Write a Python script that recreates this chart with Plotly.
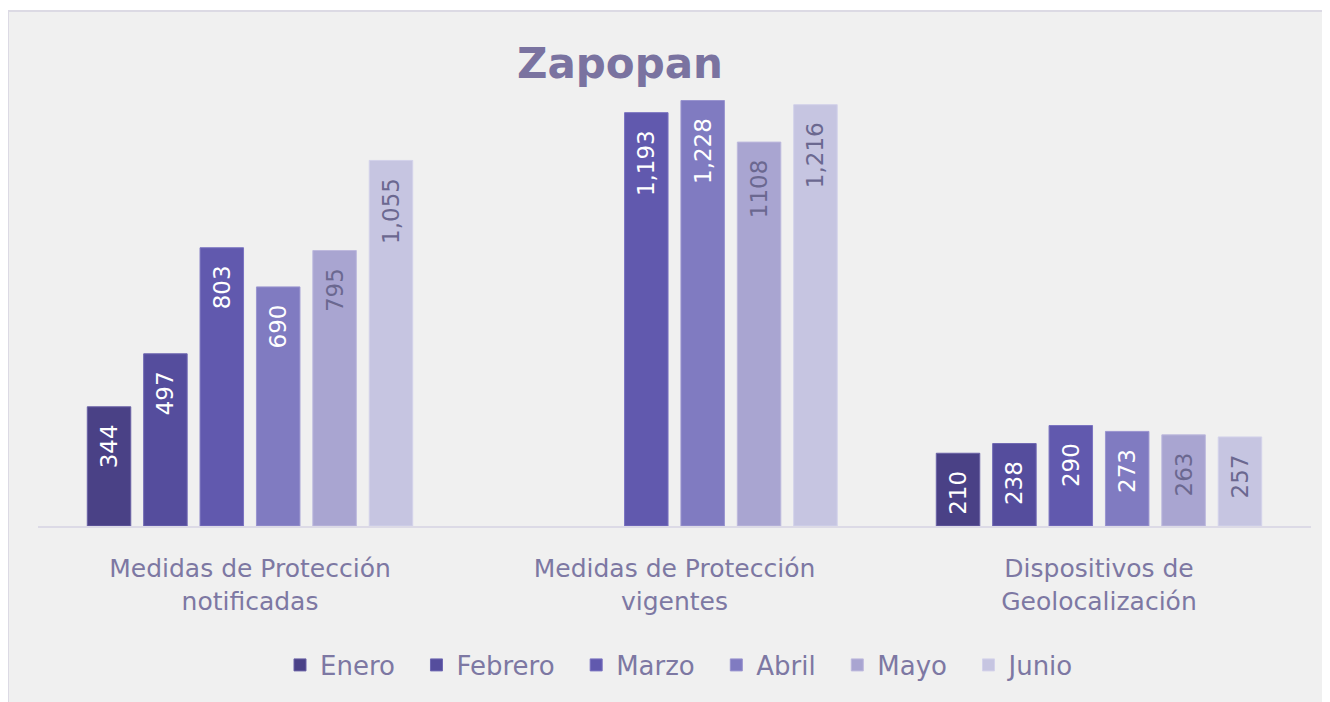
import plotly.graph_objects as go

categories = ["Medidas de Protección<br>notificadas",
              "Medidas de Protección<br>vigentes",
              "Dispositivos de<br>Geolocalización"]
months = ["Enero", "Febrero", "Marzo", "Abril", "Mayo", "Junio"]

enero = [344, None, 210]
febrero = [497, None, 238]
marzo = [803, 1193, 290]
abril = [690, 1228, 273]
mayo = [795, 1108, 263]
junio = [1055, 1216, 257]

enero_lbl = ["344", "", "210"]
febrero_lbl = ["497", "", "238"]
marzo_lbl = ["803", "1,193", "290"]
abril_lbl = ["690", "1,228", "273"]
mayo_lbl = ["795", "1108", "263"]
junio_lbl = ["1,055", "1,216", "257"]

series = [enero, febrero, marzo, abril, mayo, junio]
labels = [enero_lbl, febrero_lbl, marzo_lbl, abril_lbl, mayo_lbl, junio_lbl]
colors = ["#4a4186", "#554d9d", "#6159ae", "#807bc1", "#a9a5d1", "#c6c5e1"]
edge = ["#6a62a6", "#6f68b2", "#7a73c0", "#9994cf", "#bdb9dd", "#d3d2ea"]
textcol = ["#ffffff", "#ffffff", "#ffffff", "#ffffff", "#6b6890", "#6b6890"]

FONT = "DejaVu Sans"
W, H = 1330, 702
OFF = 8  # page body margin offset

fig = go.Figure()
for i, (m, vals, lbl, c, e, tc) in enumerate(zip(months, series, labels, colors, edge, textcol)):
    pad = "\u00a0\u00a0" if i < len(months) - 1 else ""
    fig.add_trace(go.Bar(
        name=m + pad, x=categories, y=vals,
        text=[t + "\u00a0\u00a0" if t else "" for t in lbl],
        textposition="inside", insidetextanchor="end", textangle=-90,
        textfont=dict(family=FONT, size=23, color=tc),
        marker=dict(color=c, line=dict(color=e, width=1)),
        cliponaxis=False,
    ))

y_px_base = 526 - OFF
scale = 0.3465
ymax = 1300
top_px = y_px_base - ymax * scale

fig.update_layout(
    width=W, height=H,
    margin=dict(l=0, r=0, t=0, b=0),
    paper_bgcolor="#ffffff",
    plot_bgcolor="rgba(0,0,0,0)",
    barmode="group",
    bargap=0.203,
    bargroupgap=0.229,
    title=dict(text="<b>Zapopan</b>", x=(620 - OFF) / W, xanchor="center",
               y=1 - (63 - OFF) / H, yanchor="middle",
               font=dict(family=FONT, size=42, color="#7a73a0")),
    xaxis=dict(domain=[(37.75 - OFF) / W, (1311.25 - OFF) / W], showline=True,
               linecolor="#dcdae6", linewidth=2, ticks="",
               tickfont=dict(family=FONT, size=25, color="#7d78a3"),
               ticklabelstandoff=19, showgrid=False),
    yaxis=dict(domain=[(H - y_px_base) / H, (H - top_px) / H], range=[0, ymax],
               visible=False, showgrid=False),
    legend=dict(orientation="h", x=(680 - OFF) / W, xanchor="center",
                y=1 - (665 - OFF) / H, yanchor="middle", bgcolor="rgba(0,0,0,0)",
                font=dict(family=FONT, size=26, color="#7d78a3"),
                itemclick=False),
    showlegend=True,
    shapes=[dict(type="rect", xref="paper", yref="paper",
                 x0=0, x1=(1329 - OFF) / W, y0=-0.05, y1=1 - (11 - OFF) / H,
                 fillcolor="#f0f0f0", line=dict(color="#dcdae4", width=2),
                 layer="below")],
)

fig.write_html("out.html")
